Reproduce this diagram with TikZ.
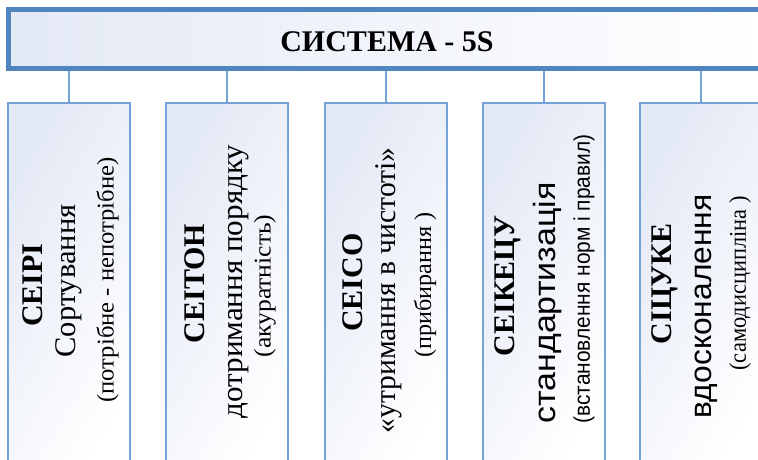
\documentclass[tikz,border=0pt]{standalone}
\usepackage{graphicx}
\usepackage{fontspec}
\setmainfont{Liberation Serif}
\newfontfamily\plainsans{Liberation Sans}
\definecolor{frameblue}{HTML}{4F86BF}
\definecolor{linkblue}{HTML}{75A3D8}
\definecolor{tintblue}{HTML}{E3E9F5}
% set a line to a given length (in px of the layout grid), keeping its height
\newcommand{\spanto}[2]{\resizebox{#1\dimexpr 0.75pt\relax}{\height}{#2}}
\begin{document}
\begin{tikzpicture}[x=0.75pt,y=-0.75pt,
  headbox/.style={draw=frameblue, line width=3.75pt, left color=tintblue, right color=white,
    minimum width=567.75pt, minimum height=44.25pt, inner sep=0pt},
  stagebox/.style={draw=linkblue, line width=1.5pt, left color=tintblue, right color=white,
    shading angle=60, minimum width=91.5pt, minimum height=279pt, inner sep=0pt},
  link/.style={draw=linkblue, line width=1.5pt},
  headtext/.style={font=\fontsize{22.5}{27}\selectfont\bfseries, inner sep=0pt},
  keyword/.style={rotate=90, inner sep=0pt, font=\fontsize{22.5}{27}\selectfont\bfseries},
  meaning/.style={rotate=90, inner sep=0pt, font=\fontsize{22.5}{27}\selectfont},
  sansmeaning/.style={meaning, font=\fontsize{23}{27}\selectfont\plainsans},
  note/.style={rotate=90, inner sep=0pt, font=\fontsize{18}{22}\selectfont},
  sansnote/.style={note, font=\fontsize{17}{21}\selectfont\plainsans}]
\clip (0,0) rectangle (758,460);
\fill[white] (0,0) rectangle (758,460);

% five stages
\node[stagebox] (b1) at (69,289) {};
\node[stagebox] (b2) at (227,289) {};
\node[stagebox] (b3) at (386,289) {};
\node[stagebox] (b4) at (543.5,289) {};
\node[stagebox] (b5) at (701,289) {};

% header
\node[headbox] (sys) at (387,39) {};
\node[headtext] (title) at (387,41.5) {СИСТЕМА - 5S};

% links from the header down to each stage
\foreach \b in {b1,b2,b3,b4,b5}
  \draw[link] (sys.south -| \b.north) -- (\b.north);

% stage texts
\node[keyword] (k1) at (33,285) {СЕІРІ};
\node[meaning] (m1) at (69,281) {\spanto{153}{Сортування}};
\node[note]    (n1) at (107.5,280) {\spanto{245}{(потрібне - непотрібне)}};

\node[keyword] (k2) at (195,283.5) {СЕІТОН};
\node[meaning] (m2) at (238.5,281.5) {\spanto{274}{дотримання порядку}};
\node[note]    (n2) at (265,286) {\spanto{143}{(акуратність)}};

\node[keyword] (k3) at (353,282.5) {СЕІСО};
\node[meaning] (m3) at (389,290.5) {\spanto{286}{«утримання в чистоті»}};
\node[note]    (n3) at (425,285) {\spanto{145}{(прибирання )}};

\node[keyword] (k4) at (507.5,286) {СЕІКЕЦУ};
\node[sansmeaning] (m4) at (547.5,303) {\spanto{241}{стандартизація}};
\node[sansnote] (n4) at (584,279) {\spanto{289}{(встановлення норм і правил)}};

\node[keyword] (k5) at (665,284) {СІЦУКЕ};
\node[sansmeaning] (m5) at (706,306.5) {\spanto{224}{вдосконалення}};
\node[note]    (n5) at (740,283.5) {\spanto{174}{(самодисципліна )}};
\end{tikzpicture}
\end{document}
